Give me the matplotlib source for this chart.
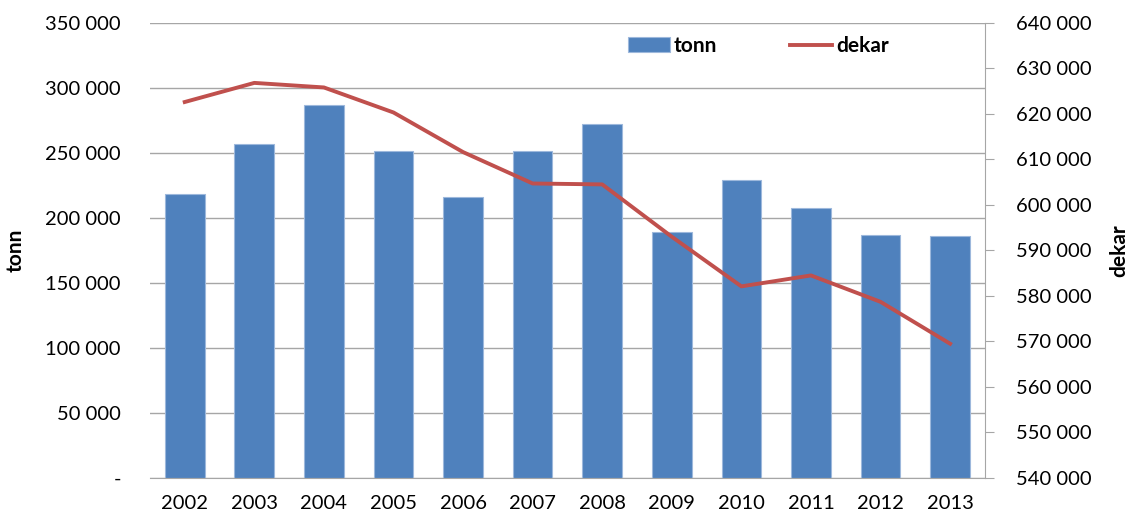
import numpy as np
from matplotlib import pyplot as plt
from matplotlib.ticker import FuncFormatter

years = ['2002', '2003', '2004', '2005', '2006', '2007',
         '2008', '2009', '2010', '2011', '2012', '2013']
tonn = [218000, 257000, 287000, 251500, 215800, 251300,
        272000, 189500, 229000, 207500, 186500, 186200]
dekar = [622600, 626800, 625800, 620300, 611600, 604700,
         604500, 593000, 582100, 584500, 578700, 569500]

plt.rcParams['font.family'] = ['Lato', 'DejaVu Sans']
plt.rcParams['font.size'] = 14.5

bar_color = '#4F81BD'
line_color = '#C0504D'
grid_color = '#A6A6A6'


def space_fmt(v, pos):
    if v == 0:
        return '-'
    return f'{int(round(v)):,}'.replace(',', ' ')


fig = plt.figure(figsize=(11.36, 5.22), dpi=100)
ax = fig.add_axes([0.132, 0.0843, 0.735, 0.872])
x = np.arange(len(years))

bars = ax.bar(x, tonn, width=0.57, color=bar_color, edgecolor='#9DB8DC',
              linewidth=0.8, label='tonn', zorder=2)
ax.set_ylim(0, 350000)
ax.set_yticks(np.arange(0, 350001, 50000))
ax.yaxis.set_major_formatter(FuncFormatter(space_fmt))
ax.set_xlim(-0.5, 11.5)
ax.set_xticks(x)
ax.set_xticklabels(years)
ax.grid(axis='y', color=grid_color, linewidth=1.0, zorder=0)
ax.set_axisbelow(True)
for s in ['top', 'left', 'right']:
    ax.spines[s].set_visible(False)
ax.spines['bottom'].set_color(grid_color)
ax.tick_params(axis='y', direction='out', length=0, pad=21)
ax.tick_params(axis='x', length=0, pad=12)
ax.set_ylabel('tonn', fontweight='bold', fontsize=15)
ax.yaxis.set_label_coords(-0.1485, 0.5)

ax2 = ax.twinx()
line, = ax2.plot(x, dekar, color=line_color, linewidth=2.8, label='dekar',
                 solid_joinstyle='round', zorder=3)
ax2.set_ylim(540000, 640000)
ax2.set_yticks(np.arange(540000, 640001, 10000))
ax2.yaxis.set_major_formatter(FuncFormatter(space_fmt))
for s in ['top', 'left', 'bottom']:
    ax2.spines[s].set_visible(False)
ax2.spines['right'].set_color(grid_color)
ax2.tick_params(axis='y', direction='out', length=6.5, color=grid_color, pad=16)
ax2.set_ylabel('dekar', fontweight='bold', fontsize=15, rotation=90)
ax2.yaxis.set_label_coords(1.1485, 0.5)

leg = ax.legend([bars, line], ['tonn', 'dekar'], ncol=2, frameon=False,
                loc='upper left', bbox_to_anchor=(0.5725, 0.971),
                borderpad=0, borderaxespad=0,
                prop={'weight': 'bold', 'size': 15}, handlelength=2.0,
                handletextpad=0.2, columnspacing=3.5, handleheight=0.7)

fig.savefig('out.png', dpi=100)
